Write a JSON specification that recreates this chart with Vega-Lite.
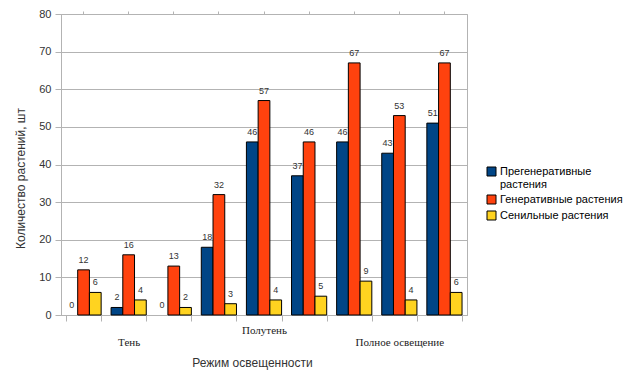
{
  "$schema": "https://vega.github.io/schema/vega-lite/v6.json",
  "width": 406,
  "height": 301,
  "autosize": {"type": "none"},
  "padding": {"left": 61, "top": 14, "right": 175, "bottom": 74},
  "background": "white",
  "config": {"view": {"stroke": "#b3b3b3"}, "font": "Liberation Sans"},
  "data": {"values": [
    {"g": 1, "type": "Прегенеративные растения", "n": 0},
    {"g": 1, "type": "Генеративные растения", "n": 12},
    {"g": 1, "type": "Сенильные растения", "n": 6},
    {"g": 2, "type": "Прегенеративные растения", "n": 2},
    {"g": 2, "type": "Генеративные растения", "n": 16},
    {"g": 2, "type": "Сенильные растения", "n": 4},
    {"g": 3, "type": "Прегенеративные растения", "n": 0},
    {"g": 3, "type": "Генеративные растения", "n": 13},
    {"g": 3, "type": "Сенильные растения", "n": 2},
    {"g": 4, "type": "Прегенеративные растения", "n": 18},
    {"g": 4, "type": "Генеративные растения", "n": 32},
    {"g": 4, "type": "Сенильные растения", "n": 3},
    {"g": 5, "type": "Прегенеративные растения", "n": 46},
    {"g": 5, "type": "Генеративные растения", "n": 57},
    {"g": 5, "type": "Сенильные растения", "n": 4},
    {"g": 6, "type": "Прегенеративные растения", "n": 37},
    {"g": 6, "type": "Генеративные растения", "n": 46},
    {"g": 6, "type": "Сенильные растения", "n": 5},
    {"g": 7, "type": "Прегенеративные растения", "n": 46},
    {"g": 7, "type": "Генеративные растения", "n": 67},
    {"g": 7, "type": "Сенильные растения", "n": 9},
    {"g": 8, "type": "Прегенеративные растения", "n": 43},
    {"g": 8, "type": "Генеративные растения", "n": 53},
    {"g": 8, "type": "Сенильные растения", "n": 4},
    {"g": 9, "type": "Прегенеративные растения", "n": 51},
    {"g": 9, "type": "Генеративные растения", "n": 67},
    {"g": 9, "type": "Сенильные растения", "n": 6}
  ]},
  "encoding": {
    "y": {
      "field": "n", "type": "quantitative",
      "scale": {"domain": [0, 80], "nice": false},
      "axis": {
        "title": "Количество растений, шт", "titleFont": "Liberation Sans", "titleFontSize": 12,
        "titleFontWeight": "normal", "titleColor": "#333", "titleX": -34, "titleY": 164,
        "values": [0, 10, 20, 30, 40, 50, 60, 70, 80],
        "labelFontSize": 11, "labelColor": "#333", "labelPadding": 4,
        "tickSize": 6, "tickColor": "#b3b3b3", "domainColor": "#b3b3b3", "gridColor": "#b3b3b3"
      }
    },
    "xOffset": {"field": "type", "type": "nominal", "sort": ["Прегенеративные растения", "Генеративные растения", "Сенильные растения"]}
  },
  "layer": [
    {
      "mark": {"type": "bar", "stroke": "black", "strokeWidth": 1},
      "encoding": {
        "x": {
          "field": "g", "type": "ordinal",
          "scale": {"paddingInner": 0.22, "paddingOuter": 0.11},
          "axis": {
            "title": "Режим освещенности", "titleFont": "Liberation Sans", "titleFontSize": 12,
            "titleFontWeight": "normal", "titleColor": "#333", "titleX": 191, "titleY": 42,
            "labelExpr": "datum.value == 2 ? 'Тень' : datum.value == 5 ? 'Полутень' : datum.value == 8 ? 'Полное освещение' : ''",
            "labelAngle": 0, "labelFont": "Liberation Serif", "labelFontSize": 11, "labelFontWeight": "normal", "labelColor": "#222",
            "labelPadding": {"condition": {"test": "datum.value == 5", "value": 3}, "value": 15},
            "labelOverlap": false,
            "tickBand": "extent", "tickSize": 6, "tickColor": "#b3b3b3", "domainColor": "#b3b3b3", "grid": false
          }
        },
        "strokeOpacity": {"condition": {"test": "datum.n == 0", "value": 0}, "value": 1},
        "color": {
          "field": "type", "type": "nominal",
          "scale": {"domain": ["Прегенеративные растения", "Генеративные растения", "Сенильные растения"], "range": ["#004586", "#ff420e", "#ffd320"]},
          "legend": {
            "title": null, "orient": "none", "legendX": 425, "legendY": 152,
            "labelExpr": "datum.label == 'Прегенеративные растения' ? ['Прегенеративные', 'растения'] : datum.label",
            "labelFont": "Liberation Sans", "labelFontSize": 11, "labelColor": "black", "labelOffset": 3,
            "symbolType": "square", "symbolSize": 81, "symbolStrokeColor": "black", "symbolStrokeWidth": 1,
            "symbolOpacity": 1, "rowPadding": 3
          }
        }
      }
    },
    {
      "mark": {"type": "text", "baseline": "bottom", "dy": -5, "fontSize": 9, "color": "#333", "font": "Liberation Sans"},
      "encoding": {
        "x": {
          "field": "g", "type": "ordinal",
          "axis": {"labels": false, "domain": false, "title": null, "tickSize": 3, "tickColor": "#b3b3b3", "grid": false}
        },
        "text": {"field": "n", "type": "quantitative"}
      }
    }
  ],
  "resolve": {"axis": {"x": "independent"}}
}
